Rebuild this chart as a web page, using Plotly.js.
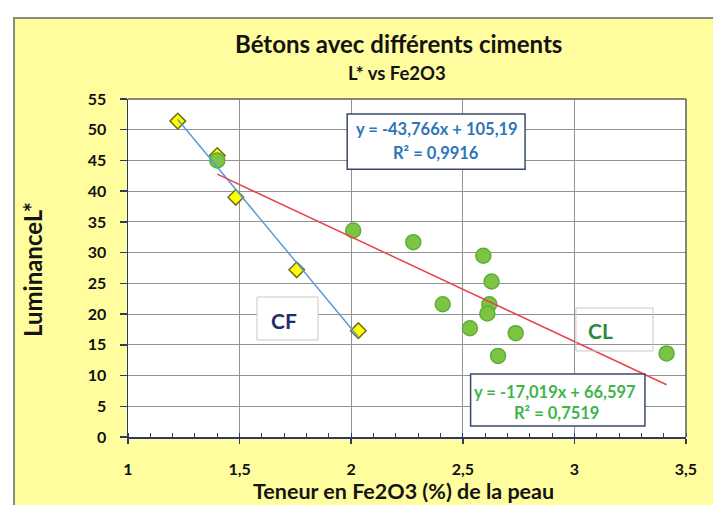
<!DOCTYPE html>
<html><head><meta charset="utf-8">
<script src="https://cdn.plot.ly/plotly-3.0.1.min.js"></script>
<style>
html,body{margin:0;padding:0;background:#fff;width:713px;height:505px;overflow:hidden;}
#frame{position:absolute;left:13px;top:17px;width:720px;height:500px;background:#FFFD9E;border:2px solid #8C8C7A;}
#chart{position:absolute;left:0;top:0;width:713px;height:505px;}
</style></head><body>
<div id="frame"></div><div id="chart"></div>
<script>
// ---- data ----
const seriesNames = ['CF', 'CL'];
const cfX = [1.223, 1.40, 1.483, 1.756, 2.032];
const cfY = [51.4, 45.8, 39.0, 27.2, 17.3];
const clX = [1.40, 2.009, 2.278, 2.592, 2.629, 2.410, 2.619, 2.610, 2.532, 2.737, 2.658, 3.413];
const clY = [45.0, 33.6, 31.7, 29.5, 25.3, 21.6, 21.6, 20.1, 17.7, 16.9, 13.2, 13.6];
const slopes = [-43.766, -17.019];
const intercepts = [105.19, 66.597];
const r2 = [0.9916, 0.7519];
const xTicks = [1, 1.5, 2, 2.5, 3, 3.5];
const yTicks = [0, 5, 10, 15, 20, 25, 30, 35, 40, 45, 50, 55];
const titleText = 'Bétons avec différents ciments';
const subtitleText = 'L* vs Fe2O3';
const xTitle = 'Teneur en Fe2O3 (%) de la peau';
const yTitle = 'LuminanceL*';

// ---- helpers ----
const F = 'Lato, "Open Sans", sans-serif';
const fr = v => String(v).replace('.', ',');
const eqLine = i => 'y = ' + fr(slopes[i]) + 'x + ' + fr(intercepts[i]);
const r2Line = i => 'R² = ' + fr(r2[i]);
function trend(xs, i) {
  const x0 = Math.min(...xs), x1 = Math.max(...xs);
  return {x: [x0, x1], y: [slopes[i] * x0 + intercepts[i], slopes[i] * x1 + intercepts[i]]};
}
const tCF = trend(cfX, 0), tCL = trend(clX, 1);

const navy = '#2B3A67';
const traces = [
  {x: cfX, y: cfY, name: seriesNames[0], type: 'scatter', mode: 'markers',
   marker: {symbol: 'diamond', size: 12, color: '#FFFF00', line: {color: '#6E6E1E', width: 1.5}}},
  {x: clX, y: clY, name: seriesNames[1], type: 'scatter', mode: 'markers',
   marker: {symbol: 'circle', size: 15, color: '#7DC443', line: {color: '#5CAE3A', width: 1.5}}},
  {x: tCF.x, y: tCF.y, type: 'scatter', mode: 'lines', name: 'Linéaire (CF)',
   line: {color: '#5B9BD5', width: 1.5}},
  {x: tCL.x, y: tCL.y, type: 'scatter', mode: 'lines', name: 'Linéaire (CL)',
   line: {color: '#E8434B', width: 1.5}}
];

const tickFont = {family: F, size: 16, color: '#111', weight: 'bold'};
const layout = {
  width: 713, height: 505,
  margin: {l: 128, r: 27, t: 99, b: 68},
  paper_bgcolor: 'rgba(0,0,0,0)', plot_bgcolor: '#FFFFFF',
  separators: ', ',
  showlegend: false,
  xaxis: {range: [1, 3.5], tickmode: 'array', tickvals: xTicks, ticks: 'outside', ticklen: 5,
    tickcolor: navy, tickwidth: 1.5, showline: true, linecolor: navy, linewidth: 1.5,
    showgrid: true, gridcolor: '#929292', gridwidth: 1, zeroline: false,
    minor: {tick0: 1, dtick: 0.1, ticks: 'inside', ticklen: 4, tickcolor: navy, tickwidth: 1, showgrid: false},
    tickfont: tickFont, ticklabelstandoff: 12},
  yaxis: {range: [0, 55], tickmode: 'array', tickvals: yTicks, ticks: 'outside', ticklen: 7,
    tickcolor: navy, tickwidth: 1.5, showline: true, linecolor: navy, linewidth: 1.5,
    showgrid: true, gridcolor: '#929292', gridwidth: 1, zeroline: false,
    tickfont: tickFont, ticklabelstandoff: 10},
  shapes: [
    // plot frame top & right
    {type: 'line', xref: 'paper', yref: 'paper', x0: 0, x1: 1, y0: 1, y1: 1, line: {color: '#5E5E5E', width: 1.5}},
    {type: 'line', xref: 'paper', yref: 'paper', x0: 1, x1: 1, y0: 0, y1: 1, line: {color: '#5E5E5E', width: 1.5}},
    // equation boxes
    {type: 'rect', xref: 'x', yref: 'y', x0: 1.982, x1: 2.779, y0: 43.56, y1: 52.56,
     fillcolor: '#FFFFFF', line: {color: '#3A4A6E', width: 1.5}},
    {type: 'rect', xref: 'x', yref: 'y', x0: 2.535, x1: 3.316, y0: 1.79, y1: 10.25,
     fillcolor: '#FFFFFF', line: {color: '#3A4A6E', width: 1.5}},
    // label boxes
    {type: 'rect', xref: 'x', yref: 'y', x0: 1.578, x1: 1.851, y0: 15.79, y1: 22.78,
     fillcolor: '#FFFFFF', line: {color: '#C8C8C8', width: 1}},
    {type: 'rect', xref: 'x', yref: 'y', x0: 3.007, x1: 3.352, y0: 14.0, y1: 20.99,
     fillcolor: 'rgba(255,255,255,0)', line: {color: '#C8C8C8', width: 1}}
  ],
  annotations: [
    {text: titleText, xref: 'paper', yref: 'paper', x: 0.4848, y: 1.165, showarrow: false,
     xanchor: 'center', yanchor: 'middle', font: {family: F, size: 24, color: '#141414', weight: 'bold'}},
    {text: subtitleText, xref: 'paper', yref: 'paper', x: 0.4825, y: 1.0769, showarrow: false,
     xanchor: 'center', yanchor: 'middle', font: {family: F, size: 18.5, color: '#141414', weight: 'bold'}},
    {text: xTitle, xref: 'paper', yref: 'paper', x: 0.4946, y: -0.1598, showarrow: false,
     xanchor: 'center', yanchor: 'middle', font: {family: F, size: 21.5, color: '#141414', weight: 'bold'}},
    {text: yTitle, xref: 'paper', yref: 'paper', x: -0.1720, y: 0.494, showarrow: false, textangle: -90,
     xanchor: 'center', yanchor: 'middle', font: {family: F, size: 24, color: '#141414', weight: 'bold'}},
    {text: eqLine(0), xref: 'x', yref: 'y', x: 2.384, y: 50.1, showarrow: false,
     font: {family: F, size: 16.5, color: '#2E75B6', weight: 'bold'}},
    {text: r2Line(0), xref: 'x', yref: 'y', x: 2.378, y: 46.2, showarrow: false,
     font: {family: F, size: 16.5, color: '#2E75B6', weight: 'bold'}},
    {text: eqLine(1), xref: 'x', yref: 'y', x: 2.914, y: 7.37, showarrow: false,
     font: {family: F, size: 16.5, color: '#3DB54A', weight: 'bold'}},
    {text: r2Line(1), xref: 'x', yref: 'y', x: 2.918, y: 3.9, showarrow: false,
     font: {family: F, size: 16.5, color: '#3DB54A', weight: 'bold'}},
    {text: seriesNames[0], xref: 'x', yref: 'y', x: 1.699, y: 19.0, showarrow: false,
     font: {family: F, size: 21, color: '#1F2D6B', weight: 'bold'}},
    {text: seriesNames[1], xref: 'x', yref: 'y', x: 3.119, y: 17.4, showarrow: false,
     font: {family: F, size: 21, color: '#2A8C3A', weight: 'bold'}}
  ]
};

Plotly.newPlot('chart', traces, layout, {displayModeBar: false, staticPlot: true});
</script>
</body></html>
